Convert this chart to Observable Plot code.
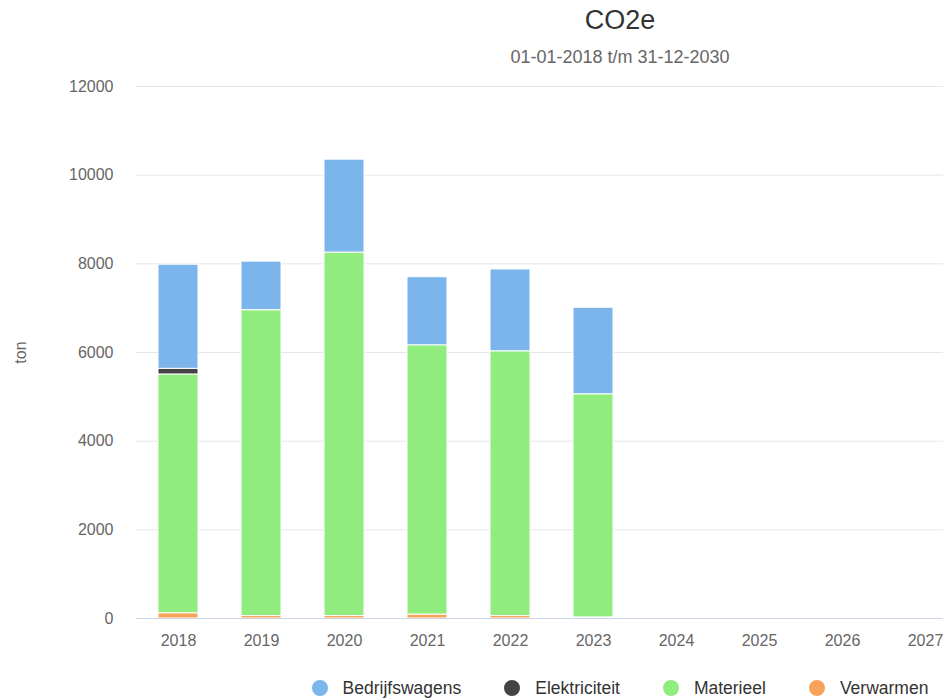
<!DOCTYPE html>
<html>
<head>
<meta charset="utf-8">
<script src="https://cdn.jsdelivr.net/npm/d3@7"></script>
<script src="https://cdn.jsdelivr.net/npm/@observablehq/plot@0.6"></script>
<style>
  html, body { margin: 0; padding: 0; overflow: hidden; background: #fff; }
  body { font-family: "Liberation Sans", Arial, sans-serif; }
  #wrap { width: 1240px; }
  #title { height: 40px; line-height: 40px; text-align: center; font-size: 27px; color: #333; }
  #subtitle { height: 34px; line-height: 34px; text-align: center; font-size: 18px; color: #666; }
  #legend { height: 60px; display: flex; justify-content: center; align-items: center; gap: 43px; font-size: 17.5px; color: #333; }
  .item { display: flex; align-items: center; }
  .dot { width: 16px; height: 16px; border-radius: 50%; margin-right: 15px; }
</style>
</head>
<body>
<div id="wrap">
  <div id="title"></div>
  <div id="subtitle"></div>
  <div id="chart"></div>
  <div id="legend"></div>
</div>
<script>
const titleText = "CO2e";
const subtitleText = "01-01-2018 t/m 31-12-2030";
const years = ["2018","2019","2020","2021","2022","2023","2024","2025","2026","2027","2028","2029","2030"];
const seriesNames = ["Bedrijfswagens", "Elektriciteit", "Materieel", "Verwarmen"];
const seriesColors = ["#7cb5ec", "#434348", "#90ed7d", "#f7a35c"];
const bedrijfswagens = [2350, 1100, 2100, 1540, 1850, 1956, 0, 0, 0, 0, 0, 0, 0];
const elektriciteit  = [130, 0, 0, 0, 0, 0, 0, 0, 0, 0, 0, 0, 0];
const materieel      = [5385, 6895, 8195, 6073, 5968, 5033, 0, 0, 0, 0, 0, 0, 0];
const verwarmen      = [115, 55, 55, 85, 55, 20, 0, 0, 0, 0, 0, 0, 0];
const yTicks = [0, 2000, 4000, 6000, 8000, 10000, 12000];
const yLabel = "ton";

const valuesBySeries = [bedrijfswagens, elektriciteit, materieel, verwarmen];
const rows = [];
seriesNames.forEach((s, i) => {
  years.forEach((y, j) => {
    if (valuesBySeries[i][j] > 0) rows.push({year: y, serie: s, value: valuesBySeries[i][j]});
  });
});

document.getElementById("title").textContent = titleText;
document.getElementById("subtitle").textContent = subtitleText;

const chart = Plot.plot({
  width: 1240,
  height: 584,
  marginTop: 12,
  marginBottom: 40,
  marginLeft: 136,
  marginRight: 25,
  style: { fontFamily: "Liberation Sans, Arial, sans-serif", fontSize: "16px", color: "#666", background: "#fff" },
  x: { domain: years, paddingInner: 0.52, paddingOuter: 0.26, align: 0.5 },
  y: { domain: [0, 12000] },
  color: { domain: seriesNames, range: seriesColors },
  marks: [
    Plot.gridY(yTicks, { stroke: "#e6e6e6", strokeOpacity: 1, strokeWidth: 1 }),
    Plot.axisY(yTicks, { tickSize: 0, tickPadding: 23, label: yLabel, labelAnchor: "center", labelArrow: "none", labelOffset: 122, fill: "#666", fontSize: 16, tickFormat: d => String(d) }),
    Plot.axisX({ tickSize: 0, tickPadding: 16, label: null, fill: "#666", fontSize: 16 }),
    Plot.barY(rows, Plot.stackY({
      x: "year", y: "value", fill: "serie", z: "serie",
      order: ["Verwarmen", "Materieel", "Elektriciteit", "Bedrijfswagens"],
      stroke: "#fff", strokeWidth: 1
    })),
    Plot.ruleY([0], { stroke: "#ccd6eb", strokeWidth: 1 })
  ]
});
document.getElementById("chart").appendChild(chart);

const legend = document.getElementById("legend");
seriesNames.forEach((s, i) => {
  const item = document.createElement("div");
  item.className = "item";
  const dot = document.createElement("span");
  dot.className = "dot";
  dot.style.background = seriesColors[i];
  const label = document.createElement("span");
  label.textContent = s;
  item.appendChild(dot);
  item.appendChild(label);
  legend.appendChild(item);
});
</script>
</body>
</html>
